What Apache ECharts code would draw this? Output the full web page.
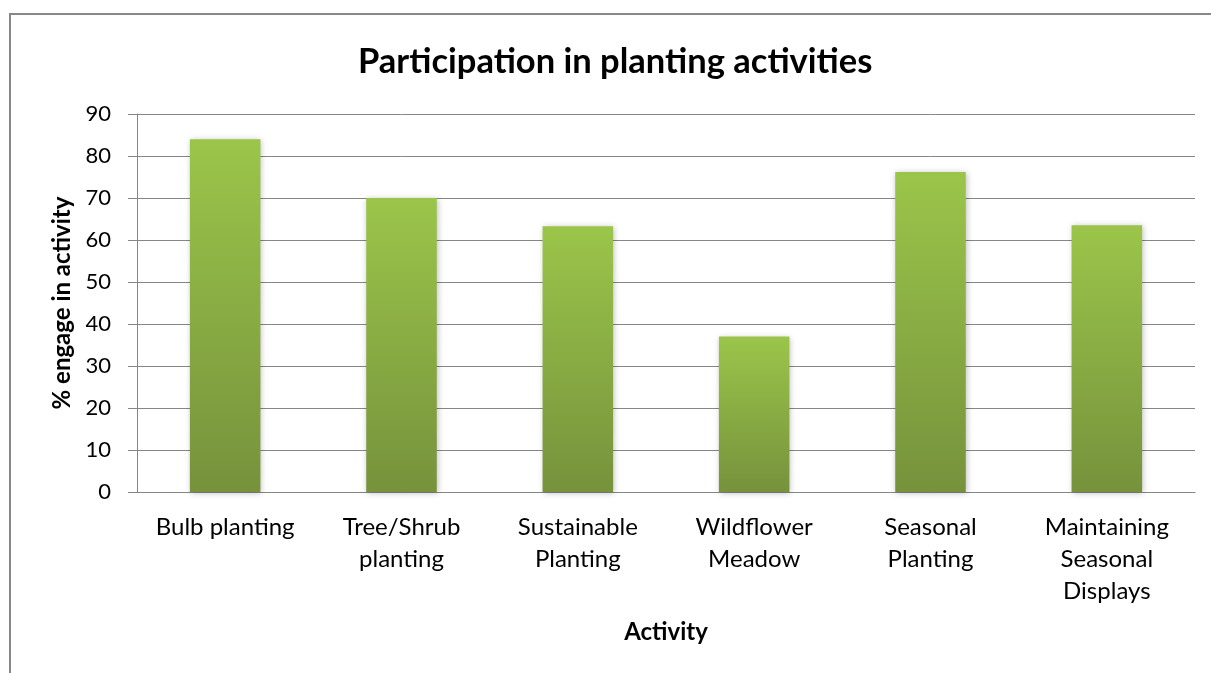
<!DOCTYPE html>
<html>
<head>
<meta charset="utf-8">
<script src="https://cdn.jsdelivr.net/npm/echarts@6/dist/echarts.min.js"></script>
<style>
  html, body { margin: 0; padding: 0; background: #fff; }
  #chart { width: 1211px; height: 673px; }
</style>
</head>
<body>
<div id="chart"></div>
<script>
var categories = [
  'Bulb planting',
  'Tree/Shrub\nplanting',
  'Sustainable\nPlanting',
  'Wildflower\nMeadow',
  'Seasonal\nPlanting',
  'Maintaining\nSeasonal\nDisplays'
];
var engagement = [84, 70, 63.3, 37, 76.2, 63.5];
var yTicks = { min: 0, max: 90, interval: 10 };

var font = 'Lato, "Open Sans", sans-serif';
var chart = echarts.init(document.getElementById('chart'));

chart.setOption({
  animation: false,
  textStyle: { fontFamily: font },
  graphic: [{
    type: 'rect',
    shape: { x: 10, y: 14, width: 1400, height: 900 },
    style: { fill: 'none', stroke: '#888', lineWidth: 2 },
    silent: true
  }],
  title: {
    text: 'Participation in planting activities',
    left: 353,
    top: 39,
    textStyle: { fontSize: 34.5, fontWeight: 'bold', color: '#000', fontFamily: font }
  },
  grid: { left: 137, right: 16, top: 114, bottom: 181 },
  xAxis: {
    type: 'category',
    data: categories,
    name: 'Activity',
    nameLocation: 'middle',
    nameGap: 128,
    nameTextStyle: { fontSize: 24, fontWeight: 'bold', color: '#000', fontFamily: font },
    axisLine: { show: true, lineStyle: { color: '#868686', width: 1 } },
    axisTick: { show: false },
    axisLabel: {
      interval: 0,
      margin: 19,
      fontSize: 24,
      lineHeight: 32,
      color: '#000',
      fontFamily: font
    }
  },
  yAxis: {
    type: 'value',
    min: yTicks.min,
    max: yTicks.max,
    interval: yTicks.interval,
    name: '% engage in activity',
    nameLocation: 'middle',
    nameRotate: 90,
    nameGap: 62,
    nameTextStyle: { fontSize: 24, fontWeight: 'bold', color: '#000', fontFamily: font },
    axisLine: { show: true, lineStyle: { color: '#868686', width: 1 } },
    axisTick: { show: true, length: 9, inside: false, lineStyle: { color: '#868686' } },
    axisLabel: { margin: 26, fontSize: 22, color: '#000', fontFamily: font },
    splitLine: { show: true, lineStyle: { color: '#868686', width: 1 } }
  },
  series: [{
    type: 'bar',
    data: engagement,
    barWidth: '40%',
    itemStyle: {
      color: new echarts.graphic.LinearGradient(0, 0, 0, 1, [
        { offset: 0, color: '#9bc54a' },
        { offset: 1, color: '#76923c' }
      ]),
      shadowColor: 'rgba(0,0,0,0.25)',
      shadowBlur: 6,
      shadowOffsetX: 1,
      shadowOffsetY: 1
    }
  }]
});
</script>
</body>
</html>
